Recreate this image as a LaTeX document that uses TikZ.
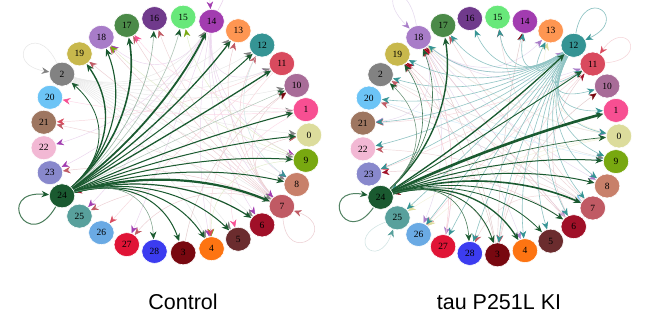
\documentclass[tikz,border=0pt]{standalone}
\usepackage{fontspec}
\setmainfont{Liberation Serif}
\newfontfamily\captionfont{Liberation Sans}
\usetikzlibrary{calc,shapes.geometric,arrows.meta}
\pgfdeclarelayer{bg}
\pgfdeclarelayer{edges}
\pgfsetlayers{bg,edges,main}

% vertex colours
\definecolor{c0}{HTML}{DCDC9C}
\definecolor{c1}{HTML}{F74F92}
\definecolor{c2}{HTML}{828282}
\definecolor{c3}{HTML}{780810}
\definecolor{c4}{HTML}{FD7412}
\definecolor{c5}{HTML}{6B2C2E}
\definecolor{c6}{HTML}{A01028}
\definecolor{c7}{HTML}{C05A64}
\definecolor{c8}{HTML}{C8806A}
\definecolor{c9}{HTML}{78A810}
\definecolor{c10}{HTML}{A86C98}
\definecolor{c11}{HTML}{D94A5E}
\definecolor{c12}{HTML}{359494}
\definecolor{c13}{HTML}{FE9652}
\definecolor{c14}{HTML}{A23CB0}
\definecolor{c15}{HTML}{68E87A}
\definecolor{c16}{HTML}{703A8C}
\definecolor{c17}{HTML}{4B8A48}
\definecolor{c18}{HTML}{A87CC8}
\definecolor{c19}{HTML}{C8B84C}
\definecolor{c20}{HTML}{6CC4F6}
\definecolor{c21}{HTML}{9E7660}
\definecolor{c22}{HTML}{F2B8D4}
\definecolor{c23}{HTML}{8888CC}
\definecolor{c24}{HTML}{1A5A30}
\definecolor{c25}{HTML}{58A09C}
\definecolor{c26}{HTML}{6AAAE4}
\definecolor{c27}{HTML}{E01436}
\definecolor{c28}{HTML}{3C3CF0}

\tikzset{
  vtx/.style={ellipse, minimum width=25.5pt, minimum height=24pt, inner sep=0pt,
    draw=white, line width=0.6pt, font=\fontsize{9.5}{10}\selectfont},
  etip/.style={-{Stealth[length=7.5pt,width=6.5pt,inset=2.5pt,color=#1]}},
  caption/.style={font=\captionfont\fontsize{21.5}{25}\selectfont},
}

\newcommand\bundle{0.6}
% bundled edge: #1 graph prefix, #2 source, #3 target, #4 colour, #5 width (pt), #6 line tint
\newcommand\gedge[6]{%
  \path ($(#1#2)!0.5!(#1#3)$) coordinate (gm);
  \path ($(gm)!\bundle!(#1C)$) coordinate (gk);
  \draw[line width=#5pt, draw=#4!#6!white, etip=#4]
    (#1#2) .. controls ($(#1#2)!0.667!(gk)$) and ($(#1#3)!0.667!(gk)$) .. (#1#3);
}
% self loop: #1 node, #2 out angle, #3 in angle, #4 reach, #5 colour, #6 width, #7 tint
\newcommand\gloop[7]{%
  \draw[line width=#6pt, draw=#5!#7!white, etip=#5]
    (#1.#2) .. controls +(#2:#4) and +(#3:#4) .. (#1.#3);
}
\newcommand\vlist{0,1,10,11,12,13,14,15,16,17,18,19,2,20,21,22,23,24,25,26,27,28,3,4,5,6,7,8,9}

\begin{document}
\begin{tikzpicture}[x=1pt,y=1pt]
\begin{pgfonlayer}{bg}
  \fill[white] (0,0) rectangle (646,324);
\end{pgfonlayer}
\useasboundingbox (0,0) rectangle (646,324);

% ---------- vertices on two ellipses ----------
\coordinate (LC) at (176,189);
\coordinate (RC) at (490.6,188);
\foreach \n [count=\i from 0] in \vlist {
  \node[vtx, fill=c\n] (L\n) at ({176+133*cos(\i*360/29)},{189+118*sin(\i*360/29)}) {\n};
  \node[vtx, fill=c\n] (R\n) at ({490.6+128.4*cos(\i*360/29)},{188+119*sin(\i*360/29)}) {\n};
}

\begin{pgfonlayer}{edges}
% ---------- Control: faint background edges ----------
\foreach \s/\t/\c/\o in {
  7/13/c7/30, 7/12/c7/30, 7/17/c7/30, 7/19/c7/30, 7/18/c7/30, 7/23/c7/30,
  7/25/c7/30, 7/27/c7/30, 7/10/c7/30, 7/0/c7/30, 7/21/c7/25, 7/16/c7/25,
  14/22/c14/22, 14/23/c14/22, 14/24/c14/22, 14/25/c14/22, 14/27/c14/22, 14/4/c14/22,
  14/6/c14/22, 14/7/c14/22, 14/8/c14/22, 14/9/c14/22, 14/11/c14/22, 14/18/c14/22,
  2/1/c2/18, 2/0/c2/18, 2/9/c2/18, 2/8/c2/18, 2/7/c2/18, 2/6/c2/18, 2/5/c2/18,
  2/4/c2/18, 2/10/c2/18, 2/11/c2/18, 2/12/c2/18, 2/13/c2/18, 2/14/c2/18,
  9/15/c9/22, 9/18/c9/22, 9/24/c9/22, 9/4/c9/22,
  6/24/c6/22, 3/10/c3/22, 12/8/c12/25,
  11/4/c11/22, 11/26/c11/22, 11/21/c11/22, 1/5/c1/22, 1/20/c1/22, 1/17/c1/22}
  {\gedge{L}{\s}{\t}{\c}{0.45}{\o}}

% ---------- Control: edges leaving vertex 24 ----------
\foreach \t/\w/\o in {
  2/0.8/100, 19/1.4/100, 18/1.1/100, 17/1.6/100, 16/0.6/45, 15/0.6/35,
  14/1.8/100, 13/1.3/100, 12/1.0/100, 11/1.3/100, 10/0.5/35, 1/1.1/100,
  0/1.0/100, 9/1.0/100, 8/1.0/100, 7/2.2/100, 6/1.2/100, 5/1.0/100,
  4/1.0/100, 3/1.0/100, 28/0.5/60}
  {\gedge{L}{24}{\t}{c24}{\w}{\o}}

% ---------- Control: self loops ----------
\gloop{L24}{240}{175}{55}{c24}{1.0}{80}
\gloop{L7}{-85}{-20}{50}{c7}{0.5}{30}
\gloop{L2}{115}{170}{50}{c2}{0.5}{20}
\gloop{L14}{60}{95}{55}{c14}{0.5}{25}

% ---------- tau P251L KI: faint background edges ----------
\foreach \s/\t/\c/\o in {
  18/13/c18/28, 18/12/c18/28, 18/0/c18/28, 18/8/c18/28, 18/6/c18/28, 18/4/c18/28,
  18/27/c18/28, 18/26/c18/28, 18/21/c18/28, 18/11/c18/28,
  3/14/c3/22, 3/18/c3/22, 3/19/c3/22, 3/10/c3/22, 3/24/c3/22,
  6/18/c6/22, 6/19/c6/22, 6/11/c6/22, 6/23/c6/22,
  11/21/c11/22, 11/23/c11/22, 11/26/c11/22, 11/3/c11/22,
  0/24/c0/35, 0/25/c0/35, 0/26/c0/35, 0/13/c0/35, 0/18/c0/35,
  20/7/c20/35, 20/9/c20/30, 2/9/c2/22,
  7/15/c7/25, 7/17/c7/25, 7/20/c7/25, 7/22/c7/25, 7/28/c7/25, 7/2/c7/25,
  27/19/c27/22, 27/18/c27/22}
  {\gedge{R}{\s}{\t}{\c}{0.45}{\o}}

% ---------- tau P251L KI: edges leaving vertex 12 ----------
\foreach \t in {13,14,15,16,17,18,19,2,20,21,22,23,24,25,26,27,28,3,4,5,6,7,8,9,0,1,10,11}
  {\gedge{R}{12}{\t}{c12}{0.6}{55}}

% ---------- tau P251L KI: edges leaving vertex 24 ----------
\foreach \t/\w/\o in {
  17/1.4/100, 18/0.6/80, 19/0.6/80, 2/0.5/70, 12/1.3/100, 11/0.9/100,
  1/2.6/100, 0/0.7/90, 9/1.0/100, 8/1.0/100, 7/1.6/100, 6/0.8/100,
  5/0.8/100, 4/1.3/100, 3/0.8/100, 28/0.6/80}
  {\gedge{R}{24}{\t}{c24}{\w}{\o}}

% ---------- tau P251L KI: self loops ----------
\gloop{R24}{235}{170}{50}{c24}{1.0}{75}
\gloop{R25}{200}{250}{45}{c25}{0.5}{30}
\gloop{R18}{100}{135}{50}{c18}{0.5}{30}
\gloop{R12}{80}{25}{50}{c12}{0.6}{60}
\gloop{R11}{5}{55}{45}{c11}{0.5}{25}
\end{pgfonlayer}

% ---------- captions ----------
\node[caption] (capL) at (183,22) {Control};
\node[caption] (capR) at (499,22) {tau P251L KI};
\end{tikzpicture}
\end{document}
